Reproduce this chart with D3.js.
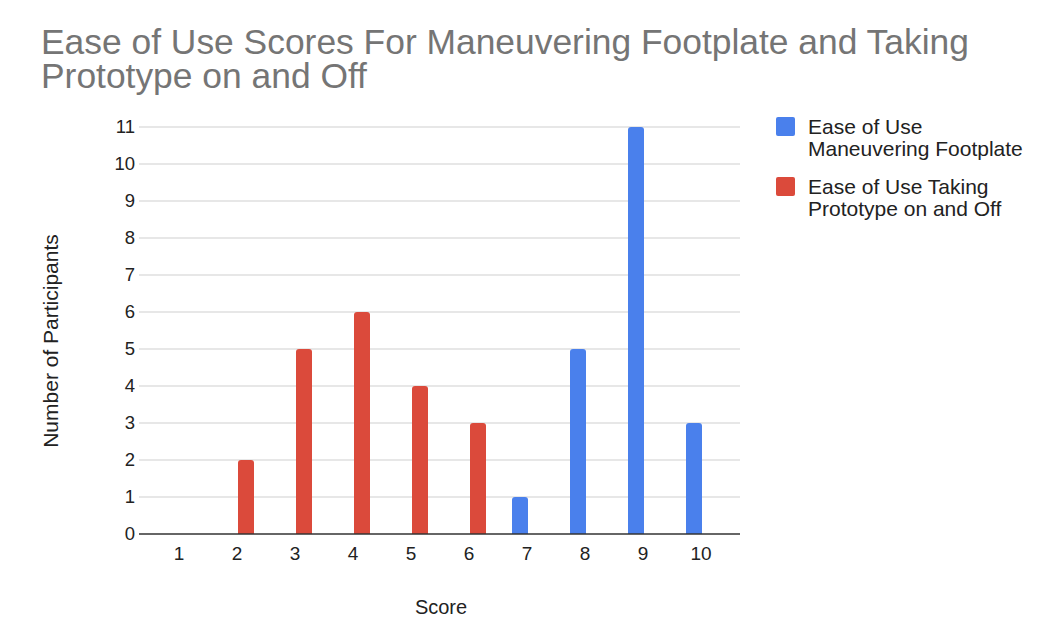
<!DOCTYPE html>
<html>
<head>
<meta charset="utf-8">
<script src="https://cdn.jsdelivr.net/npm/d3@7"></script>
<style>
  html, body { margin: 0; padding: 0; background: #fff; }
  svg { display: block; font-family: "Liberation Sans", Arial, sans-serif; }
</style>
</head>
<body>
<svg id="chart" width="1052" height="617"></svg>
<script>
// Scores 1–10 and participant counts for each question
const scores = ["1", "2", "3", "4", "5", "6", "7", "8", "9", "10"];
const footplateCounts = [0, 0, 0, 0, 0, 0, 1, 5, 11, 3];
const prototypeCounts = [0, 2, 5, 6, 4, 3, 0, 0, 0, 0];
const seriesNames = [
  ["Ease of Use", "Maneuvering Footplate"],
  ["Ease of Use Taking", "Prototype on and Off"]
];
const seriesColors = ["#4a80ec", "#db4a3b"];
const yTicks = [0, 1, 2, 3, 4, 5, 6, 7, 8, 9, 10, 11];

const svg = d3.select("#chart");
const FONT = "Liberation Sans, Arial, sans-serif";

const plot = { left: 150, right: 730, top: 127, bottom: 534 };

const x = d3.scaleBand().domain(scores).range([plot.left, plot.right]);
const sub = d3.scaleBand().domain([0, 1]).range([-16, 16]);
const y = d3.scaleLinear().domain([0, 11]).range([plot.bottom, plot.top]);

// Title
const title = svg.append("g").attr("fill", "#757575").attr("font-size", 35.4);
title.append("text").attr("x", 41).attr("y", 54)
  .text("Ease of Use Scores For Maneuvering Footplate and Taking");
title.append("text").attr("x", 41).attr("y", 88)
  .text("Prototype on and Off");

// Horizontal gridlines
svg.append("g")
  .selectAll("line")
  .data(yTicks.filter(d => d > 0))
  .join("line")
  .attr("x1", 139).attr("x2", 740)
  .attr("y1", d => y(d)).attr("y2", d => y(d))
  .attr("stroke", "#cfcfcf").attr("stroke-width", 1);

// Y axis labels
const yAxis = d3.axisLeft(y).tickValues(yTicks).tickSize(0).tickPadding(0);
svg.append("g")
  .attr("transform", "translate(135,0)")
  .call(yAxis)
  .call(g => g.select(".domain").remove())
  .call(g => g.selectAll("text")
    .attr("font-size", 18.5).attr("fill", "#222").attr("font-family", FONT));

// Bars with rounded tops
function barPath(x0, w, y0, y1, r) {
  const h = y1 - y0;
  r = Math.min(r, h, w / 2);
  return `M${x0},${y1}V${y0 + r}Q${x0},${y0} ${x0 + r},${y0}` +
         `H${x0 + w - r}Q${x0 + w},${y0} ${x0 + w},${y0 + r}V${y1}Z`;
}

const allSeries = [footplateCounts, prototypeCounts];
allSeries.forEach((vals, si) => {
  svg.append("g")
    .selectAll("path")
    .data(scores.map((s, i) => ({ s, v: vals[i] })).filter(d => d.v > 0))
    .join("path")
    .attr("fill", seriesColors[si])
    .attr("d", d => {
      const cx = x(d.s) + x.bandwidth() / 2 + 1;
      return barPath(cx + sub(si), sub.bandwidth(), y(d.v), y(0), 3);
    });
});

// Baseline
svg.append("line")
  .attr("x1", 139).attr("x2", 740)
  .attr("y1", y(0)).attr("y2", y(0))
  .attr("stroke", "#333").attr("stroke-width", 1.3);

// X axis labels
const xAxis = d3.axisBottom(x).tickSize(0).tickPadding(0);
svg.append("g")
  .attr("transform", `translate(0,${y(0) + 12})`)
  .call(xAxis)
  .call(g => g.select(".domain").remove())
  .call(g => g.selectAll("text")
    .attr("font-size", 19).attr("fill", "#222").attr("font-family", FONT));

// Axis titles
svg.append("text")
  .attr("x", 441).attr("y", 614)
  .attr("text-anchor", "middle")
  .attr("font-size", 20).attr("fill", "#222")
  .text("Score");

svg.append("text")
  .attr("transform", "translate(58,341) rotate(-90)")
  .attr("text-anchor", "middle")
  .attr("font-size", 21).attr("fill", "#222")
  .text("Number of Participants");

// Legend
const legend = svg.append("g");
seriesNames.forEach((lines, i) => {
  const top = 117 + i * 60;
  legend.append("rect")
    .attr("x", 776).attr("y", top)
    .attr("width", 19).attr("height", 19).attr("rx", 2)
    .attr("fill", seriesColors[i]);
  lines.forEach((t, j) => {
    legend.append("text")
      .attr("x", 808).attr("y", top + 17 + j * 22)
      .attr("font-size", 21).attr("fill", "#222")
      .text(t);
  });
});
</script>
</body>
</html>
